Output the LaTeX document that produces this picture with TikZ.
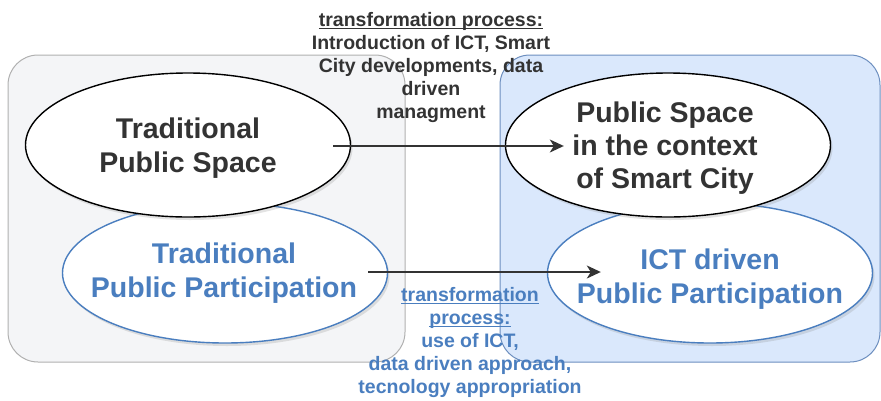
\documentclass[tikz,border=0pt]{standalone}
\usepackage{fontspec}
\setmainfont{Liberation Sans}
\usetikzlibrary{shapes.geometric,arrows.meta,shadows,calc}
\definecolor{txtdark}{HTML}{333333}
\definecolor{bluetxt}{HTML}{4A7EBF}
\definecolor{bluefill}{HTML}{DAE8FC}
\definecolor{bluedraw}{HTML}{6C8EBF}
\definecolor{grayfill}{HTML}{F4F5F7}
\definecolor{graydraw}{HTML}{B0B0B0}
\newcommand\ulnote[1]{\underline{\raisebox{0pt}[\height][0pt]{#1}}}
\begin{document}
\begin{tikzpicture}[x=1pt,y=-1pt,
  box/.style={rectangle, rounded corners=30pt, line width=1pt, inner sep=0pt},
  ell/.style={ellipse, inner sep=0pt, minimum width=325pt, fill=white, line width=1.4pt,
    drop shadow={shadow xshift=2pt, shadow yshift=-3pt, opacity=0.22}},
  big/.style={font=\bfseries\fontsize{28.5}{34}\selectfont, align=center, inner sep=0pt},
  small/.style={font=\bfseries\fontsize{19.5}{23}\selectfont, align=center, inner sep=0pt},
  conn/.style={-{Stealth[length=14pt,width=13pt,inset=4pt]}, line width=1.4pt, draw=txtdark}]
\useasboundingbox (0,0) rectangle (881,400);
% containers
\node[box, draw=graydraw, fill=grayfill, minimum width=397pt, minimum height=307pt] (lbox) at (206.5,208.5) {};
\node[box, draw=bluedraw, fill=bluefill, minimum width=380pt, minimum height=307pt] (rbox) at (690,208.5) {};
% ellipses
\node[ell, draw=bluetxt, minimum height=140pt] (tpp) at (225,273) {};
\node[ell, draw=black, minimum height=144pt] (tps) at (188,145) {};
\node[ell, draw=bluetxt, minimum height=140pt] (ict) at (710,273) {};
\node[ell, draw=black, minimum height=144pt] (pssc) at (668,145) {};
% labels
\node[big, text=txtdark] (tpsl) at (188,148) {Traditional\\Public Space};
\node[big, text=bluetxt] (tppl) at (224,273) {Traditional\\Public Participation};
\node[big, text=txtdark, font=\bfseries\fontsize{28.5}{33}\selectfont] (psscl) at (665,148) {Public Space\\in the context\\of Smart City};
\node[big, text=bluetxt] (ictl) at (710,279) {ICT driven\\Public Participation};
% connectors
\coordinate (a1s) at ($(tps.center)+(145,1)$);
\coordinate (a1e) at ($(pssc.west)+(59,1)$);
\coordinate (a2s) at ($(tpp.center)+(143,-1)$);
\coordinate (a2e) at ($(ict.west)+(54,-1)$);
\draw[conn] (a1s) -- (a1e);
\draw[conn] (a2s) -- (a2e);
% annotations
\node[small, text=txtdark, anchor=north] (topnote) at (431,12)
  {\ulnote{transformation process:}\\Introduction of ICT, Smart\\City developments, data\\driven\\managment};
\node[small, text=bluetxt, anchor=north] (botnote) at (470,287)
  {\ulnote{transformation}\\\ulnote{process:}\\use of ICT,\\data driven approach,\\tecnology appropriation};
\end{tikzpicture}
\end{document}
